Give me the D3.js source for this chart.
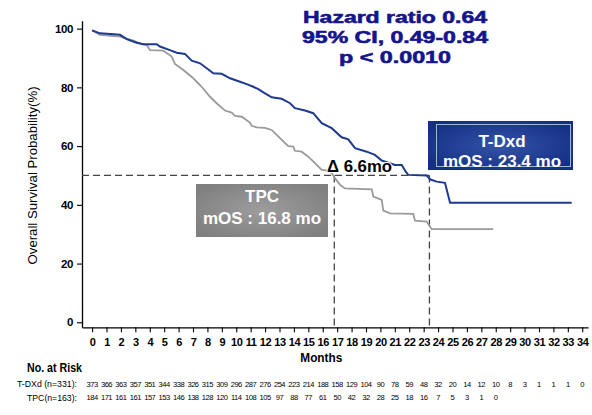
<!DOCTYPE html>
<html>
<head>
<meta charset="utf-8">
<script src="https://cdn.jsdelivr.net/npm/d3@7"></script>
<style>
  html, body { margin: 0; padding: 0; background: #fff; }
  svg { display: block; font-family: "Liberation Sans", Arial, Helvetica, sans-serif; }
</style>
</head>
<body>
<svg id="chart" width="592" height="415"></svg>
<script>
// Kaplan–Meier overall survival: months, survival (%)
const tdxdMonths = [0, 0.55, 1.94, 2.40, 3.09, 3.55, 4.48, 4.71, 5.40, 5.87, 6.44, 6.91, 7.49, 7.95, 8.41, 8.99, 9.57, 10.26, 10.72, 11.18, 11.53, 11.88, 12.46, 13.15, 13.73, 14.07, 14.77, 15.34, 15.93, 16.62, 17.31, 17.77, 18.24, 19.05, 19.62, 20.09, 21.01, 21.48, 21.77, 21.93, 23.21, 23.44, 23.90, 24.48, 24.83, 33.27];
const tdxdSurv   = [99.4, 98.4, 97.9, 96.4, 95.2, 94.7, 94.7, 93.9, 92.7, 91.8, 91.4, 89.1, 88.2, 86.5, 84.8, 84.6, 83.1, 81.9, 81.1, 80.2, 79.4, 78.3, 76.6, 76.1, 74.6, 72.9, 72.1, 71.2, 67.8, 66.1, 63.0, 62.3, 59.3, 58.1, 57.0, 55.1, 53.6, 53.6, 51.2, 50.2, 50.0, 48.7, 47.9, 47.5, 40.7, 40.7];

const tpcMonths = [0, 0.55, 1.94, 2.86, 3.32, 3.79, 4.02, 4.94, 5.52, 5.75, 6.33, 7.02, 7.60, 8.18, 8.64, 9.22, 9.68, 9.91, 10.38, 10.95, 11.07, 11.42, 11.99, 12.46, 13.03, 13.61, 13.96, 14.07, 14.54, 15.11, 15.93, 16.50, 16.85, 17.20, 17.54, 19.40, 19.51, 20.09, 20.20, 20.66, 22.28, 22.40, 23.21, 23.56, 27.83];
const tpcSurv   = [99.4, 97.9, 97.3, 95.9, 95.0, 94.4, 92.7, 92.5, 90.5, 88.0, 85.9, 83.1, 80.2, 76.8, 74.6, 72.1, 71.4, 70.3, 70.0, 68.0, 66.9, 66.4, 66.2, 65.5, 62.7, 60.0, 59.8, 58.4, 58.1, 55.9, 51.9, 51.6, 49.1, 46.8, 45.6, 45.3, 42.8, 41.7, 38.0, 37.1, 36.9, 34.6, 34.3, 31.7, 31.7];

// Number at risk at each month
const riskMonths = d3.range(0, 35);
const tdxdRisk = [373, 366, 363, 357, 351, 344, 338, 326, 315, 309, 296, 287, 276, 254, 223, 214, 188, 158, 129, 104, 90, 78, 59, 48, 32, 20, 14, 12, 10, 8, 3, 1, 1, 1, 0];
const tpcRisk  = [184, 171, 161, 161, 157, 153, 146, 138, 128, 120, 114, 108, 105, 97, 88, 77, 61, 50, 42, 32, 28, 25, 18, 16, 7, 5, 3, 1, 0];

const yTicks = [0, 20, 40, 60, 80, 100];
const medianLevel = 50;
const medianTpc = 16.8;
const medianTdxd = 23.4;
const statLines = ["Hazard ratio 0.64", "95% CI, 0.49-0.84", "p < 0.0010"];

const svg = d3.select("#chart");

const x = d3.scaleLinear().domain([-0.7, 34.4]).range([82, 588]);
const y = d3.scaleLinear().domain([-1.7, 102.7]).range([327.3, 20.7]);

const defs = svg.append("defs");
const gBlue = defs.append("radialGradient").attr("id", "gBlue").attr("cx", "50%").attr("cy", "50%").attr("r", "60%");
gBlue.append("stop").attr("offset", "0%").attr("stop-color", "#3454a6");
gBlue.append("stop").attr("offset", "100%").attr("stop-color", "#142f84");
const gGray = defs.append("radialGradient").attr("id", "gGray").attr("cx", "50%").attr("cy", "50%").attr("r", "60%");
gGray.append("stop").attr("offset", "0%").attr("stop-color", "#9d9d9d");
gGray.append("stop").attr("offset", "100%").attr("stop-color", "#808080");

// Axes
const xAxis = d3.axisBottom(x).tickValues(riskMonths).tickSize(5).tickSizeOuter(0).tickPadding(6);
const gx = svg.append("g").attr("transform", `translate(0,${y(-1.7)})`).call(xAxis);
gx.selectAll("text").attr("font-size", 11).attr("font-weight", "bold").attr("fill", "#000").attr("letter-spacing", "-0.4");

const yAxis = d3.axisLeft(y).tickValues(yTicks).tickSize(5).tickSizeOuter(0).tickPadding(4);
const gy = svg.append("g").attr("transform", `translate(${x(-0.7)},0)`).call(yAxis);
gy.selectAll("text").attr("font-size", 11.5).attr("font-weight", "bold").attr("fill", "#000").attr("letter-spacing", "-0.4");

[gx, gy].forEach(g => {
  g.select(".domain").attr("stroke", "#000").attr("stroke-width", 1.3);
  g.selectAll(".tick line").attr("stroke", "#000").attr("stroke-width", 1.1);
  g.attr("font-family", null);
});

svg.append("text")
  .attr("transform", `translate(37,${(y(0) + y(100)) / 2}) rotate(-90)`)
  .attr("text-anchor", "middle")
  .attr("font-size", 12).attr("textLength", 178).attr("lengthAdjust", "spacingAndGlyphs")
  .text("Overall Survival Probability(%)");

svg.append("text")
  .attr("x", x(15.9)).attr("y", 362)
  .attr("text-anchor", "middle")
  .attr("font-size", 12.5).attr("font-weight", "bold").attr("textLength", 42).attr("lengthAdjust", "spacingAndGlyphs")
  .text("Months");

// Median reference lines
const dash = "7,4";
svg.append("line")
  .attr("x1", x(-0.7)).attr("x2", x(medianTdxd))
  .attr("y1", y(medianLevel)).attr("y2", y(medianLevel))
  .attr("stroke", "#444").attr("stroke-width", 1.3).attr("stroke-dasharray", dash);
[medianTpc, medianTdxd].forEach(m => {
  svg.append("line")
    .attr("x1", x(m)).attr("x2", x(m))
    .attr("y1", y(medianLevel)).attr("y2", y(-1.7))
    .attr("stroke", "#444").attr("stroke-width", 1.3).attr("stroke-dasharray", dash);
});

// Survival curves
const line = d3.line().x(d => x(d[0])).y(d => y(d[1]));
svg.append("path")
  .datum(d3.zip(tpcMonths, tpcSurv))
  .attr("d", line).attr("fill", "none")
  .attr("stroke", "#9a9a9a").attr("stroke-width", 1.8);
svg.append("path")
  .datum(d3.zip(tdxdMonths, tdxdSurv))
  .attr("d", line).attr("fill", "none")
  .attr("stroke", "#1d3a8f").attr("stroke-width", 2);

// Group boxes
svg.append("rect").attr("x", 196).attr("y", 184).attr("width", 132).attr("height", 53).attr("fill", "url(#gGray)");
svg.append("text").attr("x", 262).attr("y", 202).attr("text-anchor", "middle")
  .attr("font-size", 17).attr("font-weight", "bold").attr("fill", "#fff").text("TPC");
svg.append("text").attr("x", 262).attr("y", 224).attr("text-anchor", "middle")
  .attr("font-size", 17).attr("font-weight", "bold").attr("fill", "#fff")
  .text(`mOS : ${medianTpc} mo`);

svg.append("rect").attr("x", 428).attr("y", 121).attr("width", 145).attr("height", 49).attr("fill", "url(#gBlue)");
svg.append("rect").attr("x", 436.5).attr("y", 124.5).attr("width", 134).attr("height", 42)
  .attr("fill", "none").attr("stroke", "#a7b3d6").attr("stroke-width", 1);
svg.append("text").attr("x", 502).attr("y", 147).attr("text-anchor", "middle")
  .attr("font-size", 17).attr("font-weight", "bold").attr("fill", "#fff").text("T-Dxd");
svg.append("text").attr("x", 502).attr("y", 167).attr("text-anchor", "middle")
  .attr("font-size", 17).attr("font-weight", "bold").attr("fill", "#fff")
  .text(`mOS : ${medianTdxd} mo`);

// Difference in medians
svg.append("text")
  .attr("x", 359.5).attr("y", 171.5).attr("text-anchor", "middle")
  .attr("font-size", 17).attr("font-weight", "bold").attr("fill", "#000")
  .attr("stroke", "#fff").attr("stroke-width", 2).attr("paint-order", "stroke")
  .attr("textLength", 65).attr("lengthAdjust", "spacingAndGlyphs")
  .text(`Δ ${d3.format(".1f")(medianTdxd - medianTpc)}mo`);

// Hazard ratio block
const statWidths = [184, 186, 112];
const statBase = [22.5, 42.5, 62.5];
statLines.forEach((t, i) => {
  svg.append("text")
    .attr("x", 395).attr("y", statBase[i]).attr("text-anchor", "middle")
    .attr("font-size", 17.4).attr("font-weight", "bold").attr("fill", "#14148c")
    .attr("stroke", "#14148c").attr("stroke-width", 0.6)
    .attr("textLength", statWidths[i]).attr("lengthAdjust", "spacingAndGlyphs")
    .text(t);
});

// Number at risk table
svg.append("text").attr("x", 27).attr("y", 372)
  .attr("font-size", 12.5).attr("font-weight", "bold")
  .attr("textLength", 55).attr("lengthAdjust", "spacingAndGlyphs")
  .text("No. at Risk");

svg.append("text").attr("x", 77).attr("y", 387).attr("text-anchor", "end")
  .attr("font-size", 9).attr("textLength", 60).attr("lengthAdjust", "spacingAndGlyphs")
  .text("T-DXd (n=331):");
svg.append("text").attr("x", 77).attr("y", 400.5).attr("text-anchor", "end")
  .attr("font-size", 9).attr("textLength", 50).attr("lengthAdjust", "spacingAndGlyphs")
  .text("TPC(n=163):");

const riskRow = (vals, yy) => {
  svg.append("g").selectAll("text")
    .data(vals)
    .join("text")
    .attr("x", (d, i) => x(riskMonths[i]))
    .attr("y", yy)
    .attr("text-anchor", "middle")
    .attr("font-size", 7.6)
    .attr("letter-spacing", "-0.5")
    .text(d => d);
};
riskRow(tdxdRisk, 386.5);
riskRow(tpcRisk, 400);
</script>
</body>
</html>
